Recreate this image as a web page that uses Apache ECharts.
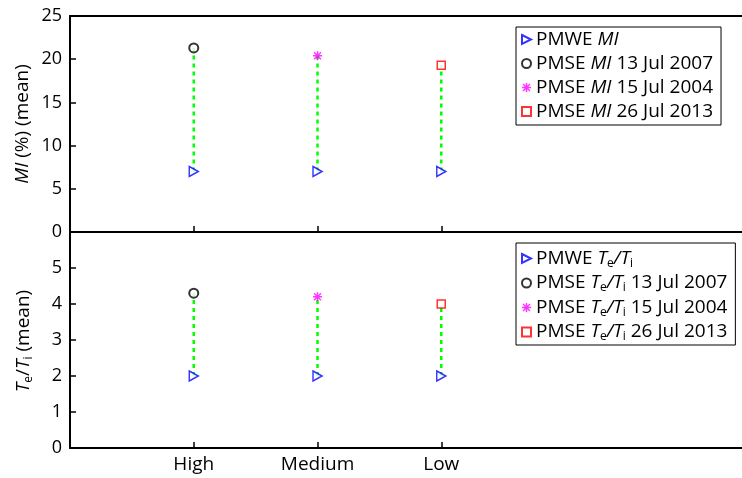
<!DOCTYPE html>
<html>
<head>
<meta charset="utf-8">
<script src="https://cdn.jsdelivr.net/npm/echarts@6/dist/echarts.min.js"></script>
<style>
  html, body { margin: 0; padding: 0; background: #fff; }
  #main { width: 742px; height: 478px; }
</style>
</head>
<body>
<div id="main"></div>
<script>
// categories on the x axis
const categories = ["High", "Medium", "Low"];
// PMSE events, one per category (same order)
const pmseDates = ["13 Jul 2007", "15 Jul 2004", "26 Jul 2013"];
// top panel: MI (%) mean
const miPmwe = [7, 7, 7];
const miPmse = [21.3, 20.4, 19.3];
// bottom panel: Te/Ti mean
const teTiPmwe = [2, 2, 2];
const teTiPmse = [4.3, 4.2, 4.0];
// y tick values
const miTicks = [0, 5, 10, 15, 20, 25];
const teTiTicks = [0, 1, 2, 3, 4, 5];

const FONT = "Open Sans";
const FS = 19;
const XMAX = 5.43; // plot is cut at the right edge of the figure

const triangle = "path://M0,0 L10,5 L0,10 Z";
const asterisk =
  "path://M4.2,0 L5.8,0 L5.8,10 L4.2,10 Z M0,4.2 L10,4.2 L10,5.8 L0,5.8 Z " +
  "M0.6,1.7 L1.7,0.6 L9.4,8.3 L8.3,9.4 Z M8.3,0.6 L9.4,1.7 L1.7,9.4 L0.6,8.3 Z";

const pmseStyles = [
  { symbol: "circle", symbolSize: 9, itemStyle: { color: "#fff", borderColor: "#000", borderWidth: 2 } },
  { symbol: asterisk, symbolSize: 9, itemStyle: { color: "#ff00ff", borderWidth: 0 } },
  { symbol: "rect", symbolSize: 8, itemStyle: { color: "#fff", borderColor: "#ff0000", borderWidth: 1.5 } },
];

const rich = {
  n: { fontFamily: FONT, fontSize: FS, color: "#000", lineHeight: 22 },
  it: { fontFamily: FONT, fontSize: FS, fontStyle: "italic", color: "#000", lineHeight: 22 },
  sub: { fontFamily: FONT, fontSize: 12, color: "#000", lineHeight: 11, verticalAlign: "bottom" },
};

function miLabel(name) {
  const m = name.match(/^(\w+) MI(.*)$/);
  return `{n|${m[1]} }{it|MI}{n|${m[2]}}`;
}
function teTiLabel(name) {
  const m = name.match(/^(\w+) Te\/Ti(.*)$/);
  return `{n|${m[1]} }{it|T}{sub|e}{it|/T}{sub|i}{n|${m[2]}}`;
}

function panelSeries(p, tag, pmwe, pmse) {
  const out = [];
  const link = [];
  categories.forEach((c, i) => {
    link.push([i + 1, pmwe[i]], [i + 1, pmse[i]], "-");
  });
  out.push({
    name: "link" + p,
    type: "line",
    xAxisIndex: p,
    yAxisIndex: p,
    data: link,
    symbol: "none",
    silent: true,
    z: 1,
    lineStyle: { color: "#00ff00", width: 2.5, type: [4, 4] },
  });
  out.push({
    name: "PMWE " + tag,
    type: "scatter",
    xAxisIndex: p,
    yAxisIndex: p,
    data: pmwe.map((v, i) => [i + 1, v]),
    symbol: triangle,
    symbolSize: [9, 10],
    z: 3,
    itemStyle: { color: "#fff", borderColor: "#0000ff", borderWidth: 1.5 },
  });
  pmseDates.forEach((d, i) => {
    out.push(Object.assign({
      name: "PMSE " + tag + " " + d,
      type: "scatter",
      xAxisIndex: p,
      yAxisIndex: p,
      data: [[i + 1, pmse[i]]],
      z: 3,
    }, pmseStyles[i]));
  });
  return out;
}

const series = [
  ...panelSeries(0, "MI", miPmwe, miPmse),
  ...panelSeries(1, "Te/Ti", teTiPmwe, teTiPmse),
];

const legendBase = {
  orient: "vertical",
  backgroundColor: "#fff",
  borderColor: "#000",
  borderWidth: 1,
  borderRadius: 0,
  itemWidth: 9,
  itemHeight: 9,
  textStyle: { fontFamily: FONT, fontSize: FS, color: "#000", rich: rich },
};

const axisLine = { show: true, lineStyle: { color: "#000", width: 2 } };

function xAxis(p, showLabels) {
  return {
    type: "value",
    gridIndex: p,
    min: 0,
    max: XMAX,
    interval: 1,
    splitLine: { show: false },
    axisLine: axisLine,
    axisTick: { show: true, inside: true, length: 6, customValues: [1, 2, 3], lineStyle: { color: "#000", width: 1.5 } },
    axisLabel: {
      show: showLabels,
      customValues: [1, 2, 3],
      formatter: (v) => categories[v - 1] || "",
      fontFamily: FONT, fontSize: FS, color: "#000", margin: 7,
    },
  };
}

function yAxis(p, max, interval, ticks) {
  return {
    type: "value",
    gridIndex: p,
    min: 0,
    max: max,
    interval: interval,
    splitLine: { show: false },
    axisLine: axisLine,
    axisTick: { show: true, inside: true, length: 6, lineStyle: { color: "#000", width: 1.5 } },
    axisLabel: {
      customValues: ticks,
      fontFamily: FONT, fontSize: 18, color: "#000", margin: 8,
    },
  };
}

// rotated y axis titles (rich text for italics and subscripts)
function yTitle(text, x, y) {
  return {
    type: "text",
    x: x,
    y: y,
    rotation: Math.PI / 2,
    style: {
      text: text,
      rich: rich,
      fontFamily: FONT,
      fontSize: FS,
      fill: "#000",
      align: "center",
      verticalAlign: "middle",
    },
  };
}

const option = {
  animation: false,
  backgroundColor: "#fff",
  grid: [
    { left: 70, top: 16, right: 0, height: 216 },
    { left: 70, top: 232, right: 0, height: 216 },
  ],
  xAxis: [
    xAxis(0, false),
    xAxis(1, true),
    // top frame line of the upper panel
    { type: "value", gridIndex: 0, position: "top", min: 0, max: XMAX,
      axisLine: axisLine, axisTick: { show: false }, axisLabel: { show: false }, splitLine: { show: false } },
  ],
  yAxis: [
    yAxis(0, 25, 5, miTicks),
    yAxis(1, 6, 1, teTiTicks),
  ],
  graphic: [
    yTitle("{it|MI}{n| (%) (mean)}", 23, 124),
    yTitle("{it|T}{sub|e}{n|/}{it|T}{sub|i}{n| (mean)}", 24, 341),
  ],
  legend: [
    Object.assign({}, legendBase, {
      left: 516, top: 27,
      padding: [3, 8, 4, 5],
      itemGap: 5,
      data: ["PMWE MI", ...pmseDates.map((d) => "PMSE MI " + d)],
      formatter: miLabel,
    }),
    Object.assign({}, legendBase, {
      left: 516, top: 243,
      padding: [6, 8, 2, 5],
      itemGap: 4,
      data: ["PMWE Te/Ti", ...pmseDates.map((d) => "PMSE Te/Ti " + d)],
      formatter: teTiLabel,
    }),
  ],
  series: series,
};

const chart = echarts.init(document.getElementById("main"), null, { renderer: "canvas" });
chart.setOption(option);
</script>
</body>
</html>
